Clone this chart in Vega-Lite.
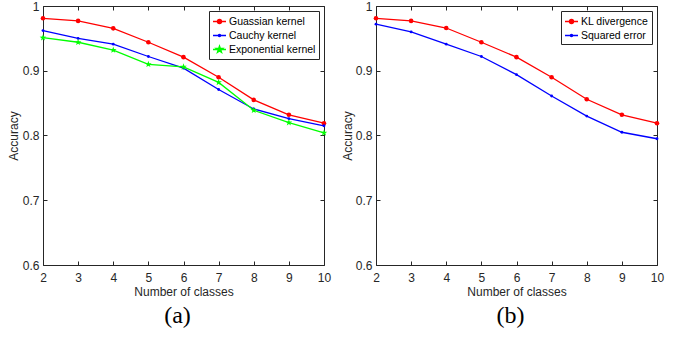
{
  "$schema": "https://vega.github.io/schema/vega-lite/v6.json",
  "padding": {"left": 7, "top": 0, "right": 5, "bottom": 5},
  "spacing": 10,
  "background": "white",
  "resolve": {"scale": {"color": "independent"}, "legend": {"color": "independent"}},
  "config": {
    "view": {"stroke": null},
    "axis": {
      "domainColor": "#262626", "tickColor": "#262626", "labelColor": "#262626", "titleColor": "#262626",
      "labelFont": "Liberation Sans", "titleFont": "Liberation Sans", "labelFontSize": 12, "titleFontSize": 12,
      "titleFontWeight": "normal", "grid": false, "tickSize": -4, "labelFlush": false, "labelOverlap": false,
      "domainWidth": 1, "tickWidth": 1
    },
    "legend": {
      "orient": "top-right", "offset": 4, "strokeColor": "#262626", "fillColor": "white", "padding": 3,
      "labelFont": "Liberation Sans", "labelFontSize": 10.5, "labelColor": "#000000", "symbolType": "M-1,0H1",
      "symbolSize": 169, "symbolStrokeWidth": 1.5, "rowPadding": 1, "labelOffset": 2, "cornerRadius": 0
    },
    "title": {"font": "Liberation Serif", "fontSize": 24, "fontWeight": "normal", "color": "#000000", "orient": "bottom", "offset": 7}
  },
  "hconcat": [
    {
      "width": 281, "height": 259,
      "title": {"text": "(a)", "dx": -6},
      "data": {"values": [
        {"classes": 2, "series": "Guassian kernel", "acc": 0.981},
        {"classes": 3, "series": "Guassian kernel", "acc": 0.977},
        {"classes": 4, "series": "Guassian kernel", "acc": 0.9655},
        {"classes": 5, "series": "Guassian kernel", "acc": 0.944},
        {"classes": 6, "series": "Guassian kernel", "acc": 0.921},
        {"classes": 7, "series": "Guassian kernel", "acc": 0.890},
        {"classes": 8, "series": "Guassian kernel", "acc": 0.855},
        {"classes": 9, "series": "Guassian kernel", "acc": 0.832},
        {"classes": 10, "series": "Guassian kernel", "acc": 0.819},
        {"classes": 2, "series": "Cauchy kernel", "acc": 0.962},
        {"classes": 3, "series": "Cauchy kernel", "acc": 0.950},
        {"classes": 4, "series": "Cauchy kernel", "acc": 0.941},
        {"classes": 5, "series": "Cauchy kernel", "acc": 0.922},
        {"classes": 6, "series": "Cauchy kernel", "acc": 0.904},
        {"classes": 7, "series": "Cauchy kernel", "acc": 0.871},
        {"classes": 8, "series": "Cauchy kernel", "acc": 0.841},
        {"classes": 9, "series": "Cauchy kernel", "acc": 0.826},
        {"classes": 10, "series": "Cauchy kernel", "acc": 0.815},
        {"classes": 2, "series": "Exponential kernel", "acc": 0.951},
        {"classes": 3, "series": "Exponential kernel", "acc": 0.944},
        {"classes": 4, "series": "Exponential kernel", "acc": 0.932},
        {"classes": 5, "series": "Exponential kernel", "acc": 0.910},
        {"classes": 6, "series": "Exponential kernel", "acc": 0.906},
        {"classes": 7, "series": "Exponential kernel", "acc": 0.882},
        {"classes": 8, "series": "Exponential kernel", "acc": 0.839},
        {"classes": 9, "series": "Exponential kernel", "acc": 0.820},
        {"classes": 10, "series": "Exponential kernel", "acc": 0.804}
      ]},
      "resolve": {"axis": {"x": "independent", "y": "independent"}},
      "layer": [
        {
          "mark": {"type": "line", "strokeWidth": 1.3},
          "encoding": {
            "x": {"field": "classes", "type": "quantitative", "scale": {"domain": [2, 10], "nice": false}, "axis": {"values": [2,3,4,5,6,7,8,9,10], "title": "Number of classes", "labelPadding": 11, "titlePadding": 3}},
            "y": {"field": "acc", "type": "quantitative", "scale": {"domain": [0.6, 1], "nice": false, "zero": false}, "axis": {"values": [0.6,0.7,0.8,0.9,1], "format": "~g", "title": "Accuracy", "labelPadding": 8, "titlePadding": 2}},
            "color": {"field": "series", "type": "nominal",
              "scale": {"domain": ["Guassian kernel", "Cauchy kernel", "Exponential kernel"], "range": ["#ff0000", "#0000ff", "#00ff00"]},
              "legend": {"title": null, "orient": "top-right", "offset": 5, "encode": {"symbols": {"update": {
                "shape": {"signal": "datum.value === 'Guassian kernel' ? 'M-1,0H1M-0.3,0A0.3,0.3,0,1,0,0.3,0A0.3,0.3,0,1,0,-0.3,0Z' : datum.value === 'Cauchy kernel' ? 'M-1,0H1M-0.16,0A0.16,0.16,0,1,0,0.16,0A0.16,0.16,0,1,0,-0.16,0Z' : 'M-1,0H1M0,-0.5L0.118,-0.162L0.476,-0.155L0.19,0.062L0.294,0.405L0,0.2L-0.294,0.405L-0.19,0.062L-0.476,-0.155L-0.118,-0.162Z'"},
                "fill": {"signal": "datum.value === 'Guassian kernel' ? '#ff0000' : datum.value === 'Cauchy kernel' ? '#0000ff' : '#00ff00'"},
                "stroke": {"signal": "datum.value === 'Guassian kernel' ? '#ff0000' : datum.value === 'Cauchy kernel' ? '#0000ff' : '#00ff00'"},
                "opacity": {"value": 1}
              }}}}
            }
          }
        },
        {
          "transform": [{"filter": "datum.series === 'Guassian kernel'"}],
          "mark": {"type": "point", "filled": true, "shape": "circle", "size": 21, "color": "#ff0000", "opacity": 1},
          "encoding": {"x": {"field": "classes", "type": "quantitative", "axis": null}, "y": {"field": "acc", "type": "quantitative", "axis": null}}
        },
        {
          "transform": [{"filter": "datum.series === 'Cauchy kernel'"}],
          "mark": {"type": "point", "filled": true, "shape": "circle", "size": 8, "color": "#0000ff", "opacity": 1},
          "encoding": {"x": {"field": "classes", "type": "quantitative", "axis": null}, "y": {"field": "acc", "type": "quantitative", "axis": null}}
        },
        {
          "transform": [{"filter": "datum.series === 'Exponential kernel'"}],
          "mark": {"type": "point", "filled": true, "shape": "M0,-1L0.235,-0.324L0.951,-0.309L0.38,0.124L0.588,0.809L0,0.4L-0.588,0.809L-0.38,0.124L-0.951,-0.309L-0.235,-0.324Z", "size": 49, "color": "#00ff00", "opacity": 1},
          "encoding": {"x": {"field": "classes", "type": "quantitative", "axis": null}, "y": {"field": "acc", "type": "quantitative", "axis": null}}
        },
        {
          "mark": {"type": "point", "opacity": 0},
          "encoding": {
            "x": {"field": "classes", "type": "quantitative", "axis": {"orient": "top", "values": [2,3,4,5,6,7,8,9,10], "labels": false, "title": null}},
            "y": {"field": "acc", "type": "quantitative", "axis": {"orient": "right", "values": [0.6,0.7,0.8,0.9,1], "labels": false, "title": null}}
          }
        }
      ]
    },
    {
      "width": 281, "height": 259,
      "title": {"text": "(b)", "dx": -6},
      "data": {"values": [
        {"classes": 2, "series": "KL divergence", "acc": 0.981},
        {"classes": 3, "series": "KL divergence", "acc": 0.977},
        {"classes": 4, "series": "KL divergence", "acc": 0.966},
        {"classes": 5, "series": "KL divergence", "acc": 0.944},
        {"classes": 6, "series": "KL divergence", "acc": 0.921},
        {"classes": 7, "series": "KL divergence", "acc": 0.890},
        {"classes": 8, "series": "KL divergence", "acc": 0.856},
        {"classes": 9, "series": "KL divergence", "acc": 0.832},
        {"classes": 10, "series": "KL divergence", "acc": 0.819},
        {"classes": 2, "series": "Squared error", "acc": 0.972},
        {"classes": 3, "series": "Squared error", "acc": 0.960},
        {"classes": 4, "series": "Squared error", "acc": 0.941},
        {"classes": 5, "series": "Squared error", "acc": 0.922},
        {"classes": 6, "series": "Squared error", "acc": 0.894},
        {"classes": 7, "series": "Squared error", "acc": 0.861},
        {"classes": 8, "series": "Squared error", "acc": 0.830},
        {"classes": 9, "series": "Squared error", "acc": 0.805},
        {"classes": 10, "series": "Squared error", "acc": 0.795}
      ]},
      "resolve": {"axis": {"x": "independent", "y": "independent"}},
      "layer": [
        {
          "mark": {"type": "line", "strokeWidth": 1.3},
          "encoding": {
            "x": {"field": "classes", "type": "quantitative", "scale": {"domain": [2, 10], "nice": false}, "axis": {"values": [2,3,4,5,6,7,8,9,10], "title": "Number of classes", "labelPadding": 11, "titlePadding": 3}},
            "y": {"field": "acc", "type": "quantitative", "scale": {"domain": [0.6, 1], "nice": false, "zero": false}, "axis": {"values": [0.6,0.7,0.8,0.9,1], "format": "~g", "title": "Accuracy", "labelPadding": 8, "titlePadding": 1}},
            "color": {"field": "series", "type": "nominal",
              "scale": {"domain": ["KL divergence", "Squared error"], "range": ["#ff0000", "#0000ff"]},
              "legend": {"title": null, "orient": "top-right", "offset": 5, "encode": {"symbols": {"update": {
                "shape": {"signal": "datum.value === 'KL divergence' ? 'M-1,0H1M-0.3,0A0.3,0.3,0,1,0,0.3,0A0.3,0.3,0,1,0,-0.3,0Z' : 'M-1,0H1M-0.16,0A0.16,0.16,0,1,0,0.16,0A0.16,0.16,0,1,0,-0.16,0Z'"},
                "fill": {"signal": "datum.value === 'KL divergence' ? '#ff0000' : '#0000ff'"},
                "stroke": {"signal": "datum.value === 'KL divergence' ? '#ff0000' : '#0000ff'"},
                "opacity": {"value": 1}
              }}}}
            }
          }
        },
        {
          "transform": [{"filter": "datum.series === 'KL divergence'"}],
          "mark": {"type": "point", "filled": true, "shape": "circle", "size": 21, "color": "#ff0000", "opacity": 1},
          "encoding": {"x": {"field": "classes", "type": "quantitative", "axis": null}, "y": {"field": "acc", "type": "quantitative", "axis": null}}
        },
        {
          "transform": [{"filter": "datum.series === 'Squared error'"}],
          "mark": {"type": "point", "filled": true, "shape": "circle", "size": 8, "color": "#0000ff", "opacity": 1},
          "encoding": {"x": {"field": "classes", "type": "quantitative", "axis": null}, "y": {"field": "acc", "type": "quantitative", "axis": null}}
        },
        {
          "mark": {"type": "point", "opacity": 0},
          "encoding": {
            "x": {"field": "classes", "type": "quantitative", "axis": {"orient": "top", "values": [2,3,4,5,6,7,8,9,10], "labels": false, "title": null}},
            "y": {"field": "acc", "type": "quantitative", "axis": {"orient": "right", "values": [0.6,0.7,0.8,0.9,1], "labels": false, "title": null}}
          }
        }
      ]
    }
  ]
}
